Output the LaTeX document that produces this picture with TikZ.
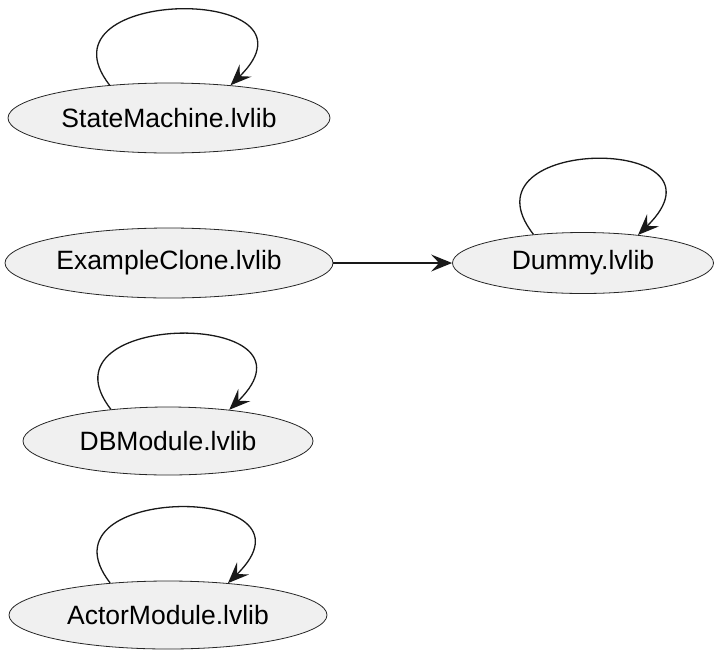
\documentclass[tikz,border=0pt]{standalone}
\usepackage{fontspec}
\setmainfont{Liberation Sans}
\usetikzlibrary{arrows.meta,shapes.geometric}

\tikzset{
  lib/.style={ellipse, draw=black!85, line width=0.8pt, fill=black!6, inner sep=0pt,
    font=\fontsize{26.5}{32}\selectfont},
  dep/.style={draw=black!90, line width=1.3pt, -{Stealth[length=21pt,width=17pt,inset=8pt]}}
}

\begin{document}
\begin{tikzpicture}[x=1pt,y=-1pt]

\useasboundingbox (0,0) rectangle (714,651);

\node [lib, minimum width=322pt, minimum height=70pt] (SM) at (169,118) {StateMachine.lvlib};
\node [lib, minimum width=328pt, minimum height=70pt] (EC) at (169,263) {ExampleClone.lvlib};
\node [lib, minimum width=261pt, minimum height=61pt] (DU) at (583,263) {Dummy.lvlib};
\node [lib, minimum width=290pt, minimum height=68pt] (DB) at (168,441) {DBModule.lvlib};
\node [lib, minimum width=318pt, minimum height=68pt] (AM) at (168,615) {ActorModule.lvlib};

\draw [dep] (EC) -- (DU);

\draw [dep] (SM.151) .. controls +(-78,-100) and +(103,-101) .. (SM.28);
\draw [dep] (DU.150) .. controls +(-78,-100) and +(103,-101) .. (DU.27);
\draw [dep] (DB.151) .. controls +(-78,-100) and +(103,-101) .. (DB.27);
\draw [dep] (AM.151) .. controls +(-78,-100) and +(103,-101) .. (AM.28);
\end{tikzpicture}
\end{document}
